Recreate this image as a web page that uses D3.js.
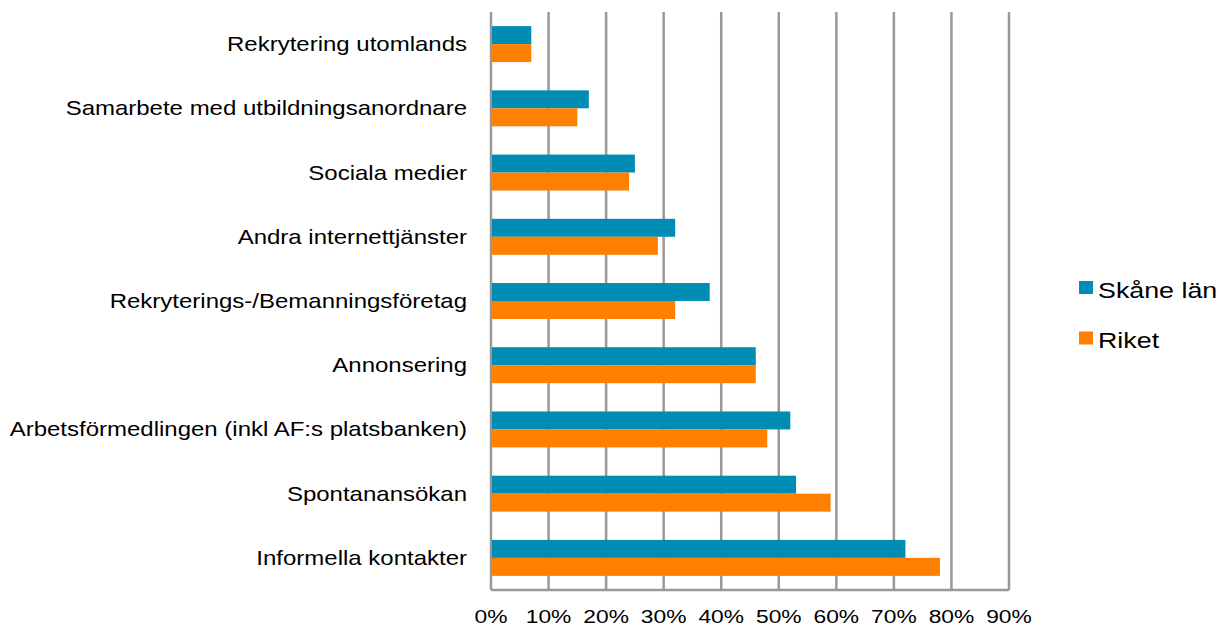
<!DOCTYPE html>
<html>
<head>
<meta charset="utf-8">
<script src="https://cdn.jsdelivr.net/npm/d3@7"></script>
<style>
  body { margin: 0; background: #fff; }
  text { font-family: "Liberation Sans", Arial, sans-serif; fill: #000; }
</style>
</head>
<body>
<script>
// Kategorier och värden (andel i procent)
const kategorier = [
  "Rekrytering utomlands",
  "Samarbete med utbildningsanordnare",
  "Sociala medier",
  "Andra internettjänster",
  "Rekryterings-/Bemanningsföretag",
  "Annonsering",
  "Arbetsförmedlingen (inkl AF:s platsbanken)",
  "Spontanansökan",
  "Informella kontakter"
];
const skane = [7, 17, 25, 32, 38, 46, 52, 53, 72];
const riket = [7, 15, 24, 29, 32, 46, 48, 59, 78];
const serier = ["Skåne län", "Riket"];
const farger = ["#008cb4", "#ff7f00"];
const ticks = [0, 10, 20, 30, 40, 50, 60, 70, 80, 90];

// texten i originalet är något utdragen på bredden
const stretch = 1.2;

const svg = d3.select("body").append("svg")
  .attr("width", 1218).attr("height", 627);

const x = d3.scaleLinear().domain([0, 90]).range([491, 1009]);
const y = d3.scaleBand().domain(kategorier).range([12, 590])
  .paddingInner(0.44).paddingOuter(0.22);
const yInner = d3.scaleBand().domain(serier).range([0, y.bandwidth()]);

// Stödlinjer
svg.append("g").selectAll("line").data(ticks).join("line")
  .attr("x1", d => x(d)).attr("x2", d => x(d))
  .attr("y1", 12).attr("y2", 590)
  .attr("stroke", "#999").attr("stroke-width", 2.5);

// Bottenlinje
svg.append("line")
  .attr("x1", x(0)).attr("x2", x(90)).attr("y1", 590).attr("y2", 590)
  .attr("stroke", "#999").attr("stroke-width", 2.5);

// Staplar
const rader = kategorier.map((k, i) => ({ k, v: [skane[i], riket[i]] }));
const grupp = svg.append("g").selectAll("g").data(rader).join("g")
  .attr("transform", d => `translate(0,${y(d.k)})`);
grupp.selectAll("rect").data(d => d.v.map((v, j) => ({ v, s: serier[j], j })))
  .join("rect")
  .attr("x", x(0) + 1)
  .attr("y", d => yInner(d.s))
  .attr("width", d => x(d.v) - x(0) - 1)
  .attr("height", yInner.bandwidth())
  .attr("fill", d => farger[d.j]);

// Kategorietiketter
svg.append("g").selectAll("text").data(kategorier).join("text")
  .attr("transform", d => `translate(467,${y(d) + y.bandwidth() / 2}) scale(${stretch},1)`)
  .attr("dy", "0.35em")
  .attr("text-anchor", "end")
  .attr("font-size", 20)
  .text(d => d);

// X-axelns etiketter
svg.append("g").selectAll("text").data(ticks).join("text")
  .attr("transform", d => `translate(${x(d)},616) scale(${stretch},1)`)
  .attr("dy", "0.35em")
  .attr("text-anchor", "middle")
  .attr("font-size", 19)
  .text(d => d + "%");

// Teckenförklaring
const legend = svg.append("g").selectAll("g").data(serier).join("g")
  .attr("transform", (d, i) => `translate(1079,${287 + i * 50.5})`);
legend.append("rect")
  .attr("x", 0).attr("y", -6).attr("width", 14).attr("height", 13)
  .attr("fill", (d, i) => farger[i]);
legend.append("text")
  .attr("transform", `translate(19,3) scale(1.22,1)`)
  .attr("dy", "0.35em")
  .attr("font-size", 22)
  .text(d => d);
</script>
</body>
</html>
